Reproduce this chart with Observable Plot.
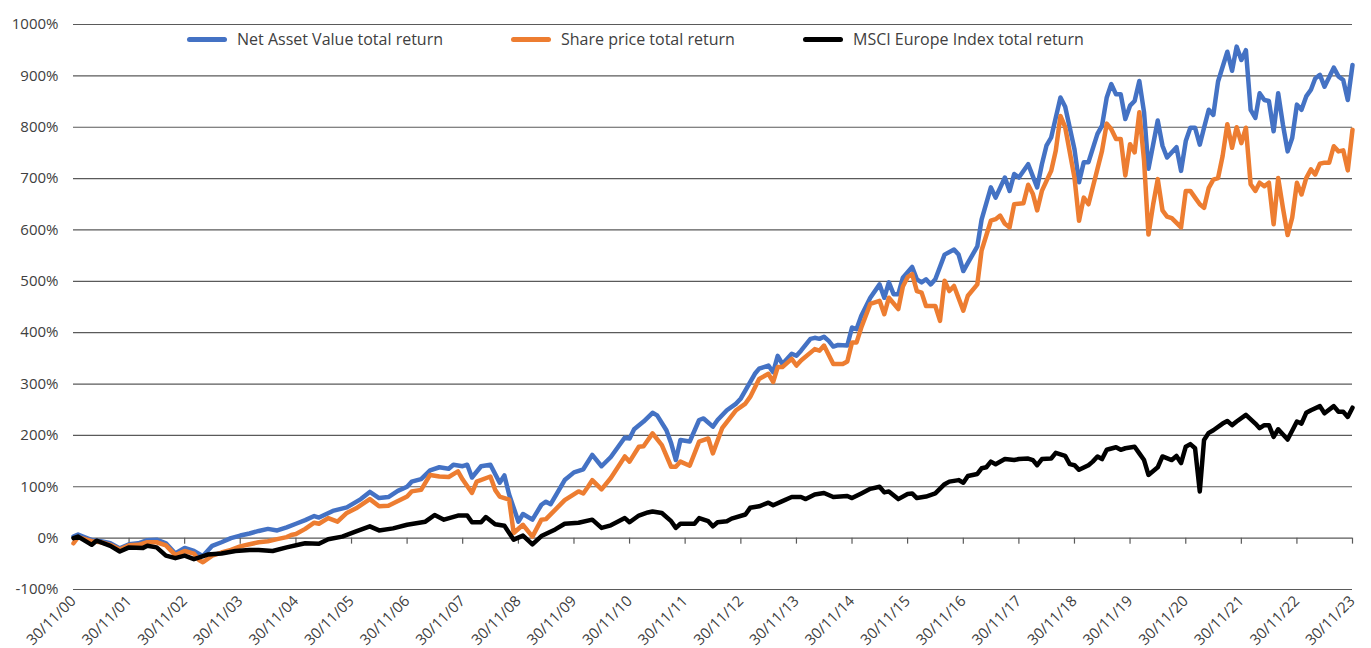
<!DOCTYPE html>
<html><head><meta charset="utf-8">
<script src="https://cdn.jsdelivr.net/npm/d3@7"></script>
<script src="https://cdn.jsdelivr.net/npm/@observablehq/plot@0.6"></script>
<style>
body{margin:0;background:#fff;font-family:"Open Sans",sans-serif;}
#wrap{position:relative;width:1371px;height:648px;}
.item{position:absolute;top:29px;display:flex;align-items:center;white-space:nowrap;font-size:16px;color:#404040;line-height:20px;}
.sw{width:40px;height:5px;border-radius:3px;margin-right:10px;}
</style></head><body><div id="wrap"></div>
<script>
// Net Asset Value total return (%)
const nav = [["2000-11",3],["2000-12",7],["2001-03",-4],["2001-05",-6],["2001-07",-10],["2001-09",-20],["2001-11",-12],["2002-01",-10],["2002-03",-4],["2002-05",-3],["2002-07",-10],["2002-09",-30],["2002-11",-19],["2003-01",-25],["2003-03",-35],["2003-05",-15],["2003-07",-8],["2003-09",0],["2003-11",5],["2004-01",9],["2004-03",14],["2004-05",18],["2004-07",15],["2004-09",21],["2004-11",28],["2005-01",35],["2005-03",43],["2005-04",40],["2005-07",53],["2005-10",60],["2006-01",76],["2006-03",90],["2006-05",78],["2006-07",80],["2006-09",92],["2006-11",100],["2006-12",110],["2007-02",115],["2007-04",132],["2007-06",138],["2007-08",135],["2007-09",143],["2007-11",140],["2007-12",143],["2008-01",118],["2008-03",140],["2008-05",143],["2008-07",108],["2008-08",122],["2008-09",85],["2008-11",32],["2008-12",47],["2009-02",36],["2009-04",65],["2009-05",71],["2009-06",66],["2009-09",113],["2009-11",128],["2010-01",134],["2010-03",162],["2010-05",140],["2010-07",158],["2010-10",196],["2010-11",194],["2010-12",212],["2011-02",227],["2011-04",244],["2011-05",239],["2011-07",210],["2011-08",185],["2011-09",152],["2011-10",191],["2011-12",188],["2012-02",230],["2012-03",233],["2012-05",217],["2012-06",230],["2012-08",249],["2012-10",262],["2012-11",272],["2013-02",320],["2013-03",330],["2013-04",333],["2013-05",336],["2013-06",323],["2013-07",355],["2013-08",339],["2013-10",359],["2013-11",355],["2013-12",365],["2014-02",388],["2014-03",390],["2014-04",388],["2014-05",392],["2014-06",384],["2014-07",373],["2014-08",376],["2014-10",375],["2014-11",410],["2014-12",407],["2015-01",433],["2015-03",468],["2015-05",494],["2015-06",468],["2015-07",498],["2015-08",475],["2015-09",475],["2015-10",507],["2015-12",528],["2016-01",504],["2016-02",498],["2016-03",504],["2016-04",494],["2016-05",504],["2016-07",552],["2016-09",562],["2016-10",552],["2016-11",520],["2016-12",536],["2017-01",552],["2017-02",568],["2017-03",620],["2017-05",683],["2017-06",663],["2017-08",702],["2017-09",676],["2017-10",709],["2017-11",702],["2018-01",728],["2018-03",683],["2018-04",728],["2018-05",764],["2018-06",780],["2018-08",858],["2018-09",840],["2018-11",757],["2018-12",693],["2019-01",732],["2019-02",732],["2019-04",787],["2019-05",803],["2019-06",858],["2019-07",884],["2019-08",864],["2019-09",864],["2019-10",816],["2019-11",842],["2019-12",851],["2020-01",890],["2020-02",829],["2020-03",719],["2020-05",813],["2020-06",764],["2020-07",741],["2020-09",761],["2020-10",715],["2020-11",773],["2020-12",799],["2021-01",799],["2021-02",766],["2021-03",799],["2021-04",834],["2021-05",824],["2021-06",889],["2021-08",947],["2021-09",910],["2021-10",957],["2021-11",931],["2021-12",950],["2022-01",834],["2022-02",818],["2022-03",866],["2022-04",853],["2022-05",851],["2022-06",792],["2022-07",866],["2022-08",805],["2022-09",753],["2022-10",779],["2022-11",844],["2022-12",834],["2023-01",860],["2023-02",873],["2023-03",895],["2023-04",902],["2023-05",879],["2023-07",916],["2023-08",899],["2023-09",892],["2023-10",853],["2023-11",921]];

// Share price total return (%)
const sharePrice = [["2000-11",-10],["2000-12",2],["2001-03",-6],["2001-05",-8],["2001-07",-13],["2001-09",-22],["2001-11",-14],["2002-01",-13],["2002-03",-8],["2002-05",-8],["2002-07",-14],["2002-09",-33],["2002-11",-25],["2003-01",-30],["2003-02",-42],["2003-03",-47],["2003-05",-34],["2003-07",-28],["2003-09",-23],["2003-11",-16],["2004-01",-12],["2004-03",-8],["2004-05",-6],["2004-07",-2],["2004-09",2],["2004-10",6],["2004-11",8],["2005-01",18],["2005-03",30],["2005-04",28],["2005-06",39],["2005-08",32],["2005-10",49],["2005-12",58],["2006-03",76],["2006-05",62],["2006-07",63],["2006-11",81],["2006-12",91],["2007-02",94],["2007-04",123],["2007-06",120],["2007-08",119],["2007-10",130],["2007-11",114],["2008-01",88],["2008-02",110],["2008-05",120],["2008-06",94],["2008-07",81],["2008-09",75],["2008-10",10],["2008-12",26],["2009-02",3],["2009-04",36],["2009-05",37],["2009-09",74],["2009-12",91],["2010-01",87],["2010-02",100],["2010-03",113],["2010-05",95],["2010-07",117],["2010-10",159],["2010-11",149],["2011-01",178],["2011-02",179],["2011-04",204],["2011-06",181],["2011-08",139],["2011-09",139],["2011-10",149],["2011-12",141],["2012-02",188],["2012-04",194],["2012-05",165],["2012-07",214],["2012-10",249],["2012-12",262],["2013-01",275],["2013-03",310],["2013-05",320],["2013-06",304],["2013-07",333],["2013-08",333],["2013-10",349],["2013-11",336],["2013-12",346],["2014-03",368],["2014-04",365],["2014-05",375],["2014-07",339],["2014-09",339],["2014-10",344],["2014-11",381],["2014-12",381],["2015-01",410],["2015-03",456],["2015-05",462],["2015-06",436],["2015-07",468],["2015-09",446],["2015-10",490],["2015-11",508],["2015-12",514],["2016-01",481],["2016-02",478],["2016-03",452],["2016-05",452],["2016-06",423],["2016-07",501],["2016-08",481],["2016-09",491],["2016-11",443],["2016-12",472],["2017-02",494],["2017-03",560],["2017-05",618],["2017-06",621],["2017-07",628],["2017-08",612],["2017-09",605],["2017-10",650],["2017-12",652],["2018-01",688],["2018-02",670],["2018-03",638],["2018-04",676],["2018-06",715],["2018-07",754],["2018-08",822],["2018-09",800],["2018-11",702],["2018-12",618],["2019-01",663],["2019-02",650],["2019-04",719],["2019-05",754],["2019-06",807],["2019-07",796],["2019-08",777],["2019-09",777],["2019-10",706],["2019-11",767],["2019-12",751],["2020-01",829],["2020-02",735],["2020-03",591],["2020-04",650],["2020-05",699],["2020-06",638],["2020-07",626],["2020-08",623],["2020-10",605],["2020-11",676],["2020-12",676],["2021-01",663],["2021-02",650],["2021-03",643],["2021-04",682],["2021-05",698],["2021-06",701],["2021-07",744],["2021-08",806],["2021-09",760],["2021-10",800],["2021-11",769],["2021-12",799],["2022-01",689],["2022-02",676],["2022-03",692],["2022-04",685],["2022-05",692],["2022-06",611],["2022-07",701],["2022-08",643],["2022-09",590],["2022-10",624],["2022-11",692],["2022-12",669],["2023-01",701],["2023-02",718],["2023-03",708],["2023-04",729],["2023-05",731],["2023-06",731],["2023-07",763],["2023-08",753],["2023-09",755],["2023-10",716],["2023-11",795]];

// MSCI Europe Index total return (%)
const msciEurope = [["2000-11",0],["2000-12",3],["2001-03",-13],["2001-04",-5],["2001-07",-15],["2001-09",-26],["2001-11",-18],["2002-02",-19],["2002-03",-15],["2002-05",-18],["2002-07",-34],["2002-09",-39],["2002-11",-34],["2003-01",-41],["2003-02",-38],["2003-04",-32],["2003-07",-30],["2003-10",-25],["2004-01",-23],["2004-03",-23],["2004-06",-25],["2004-09",-18],["2004-12",-12],["2005-01",-10],["2005-04",-11],["2005-06",-2],["2005-09",3],["2005-12",13],["2006-03",23],["2006-05",15],["2006-08",19],["2006-11",26],["2007-03",32],["2007-05",45],["2007-07",36],["2007-10",44],["2007-12",44],["2008-01",31],["2008-03",31],["2008-04",41],["2008-06",27],["2008-08",24],["2008-10",-3],["2008-12",5],["2009-02",-12],["2009-04",4],["2009-07",17],["2009-09",28],["2009-12",30],["2010-03",36],["2010-05",20],["2010-07",25],["2010-10",39],["2010-11",31],["2011-01",44],["2011-03",50],["2011-04",52],["2011-06",49],["2011-08",33],["2011-09",20],["2011-10",28],["2012-01",28],["2012-02",39],["2012-04",33],["2012-05",23],["2012-06",31],["2012-08",33],["2012-09",38],["2012-12",46],["2013-01",59],["2013-03",62],["2013-05",69],["2013-06",64],["2013-08",72],["2013-10",80],["2013-12",80],["2014-01",76],["2014-03",85],["2014-05",88],["2014-07",80],["2014-10",82],["2014-11",78],["2015-01",87],["2015-03",96],["2015-05",100],["2015-06",89],["2015-07",91],["2015-09",76],["2015-11",86],["2015-12",87],["2016-01",78],["2016-03",81],["2016-05",87],["2016-07",105],["2016-08",110],["2016-10",113],["2016-11",108],["2016-12",121],["2017-02",125],["2017-03",136],["2017-04",138],["2017-05",149],["2017-06",144],["2017-08",154],["2017-10",152],["2017-11",154],["2018-01",155],["2018-02",152],["2018-03",142],["2018-04",154],["2018-06",155],["2018-07",166],["2018-09",160],["2018-10",144],["2018-11",142],["2018-12",133],["2019-02",142],["2019-03",149],["2019-04",159],["2019-05",154],["2019-06",172],["2019-08",177],["2019-09",172],["2019-10",175],["2019-12",178],["2020-01",165],["2020-02",152],["2020-03",123],["2020-05",138],["2020-06",159],["2020-08",152],["2020-09",160],["2020-10",146],["2020-11",178],["2020-12",183],["2021-01",175],["2021-02",91],["2021-03",191],["2021-04",205],["2021-05",210],["2021-07",223],["2021-08",228],["2021-09",220],["2021-10",227],["2021-12",240],["2022-02",223],["2022-03",214],["2022-04",220],["2022-05",220],["2022-06",197],["2022-07",212],["2022-09",192],["2022-11",227],["2022-12",223],["2023-01",244],["2023-02",249],["2023-04",257],["2023-05",243],["2023-07",257],["2023-08",246],["2023-09",246],["2023-10",236],["2023-11",254]];

const seriesNames = ["Net Asset Value total return", "Share price total return", "MSCI Europe Index total return"];
const seriesColors = ["#4472C4", "#ED7D31", "#000000"];
const yTicks = [-100, 0, 100, 200, 300, 400, 500, 600, 700, 800, 900, 1000];
const xTickDates = ["2000-11","2001-11","2002-11","2003-11","2004-11","2005-11","2006-11","2007-11","2008-11","2009-11","2010-11","2011-11","2012-11","2013-11","2014-11","2015-11","2016-11","2017-11","2018-11","2019-11","2020-11","2021-11","2022-11","2023-11"];
const xTickLabels = ["30/11/00","30/11/01","30/11/02","30/11/03","30/11/04","30/11/05","30/11/06","30/11/07","30/11/08","30/11/09","30/11/10","30/11/11","30/11/12","30/11/13","30/11/14","30/11/15","30/11/16","30/11/17","30/11/18","30/11/19","30/11/20","30/11/21","30/11/22","30/11/23"];

const parse = d3.utcParse("%Y-%m");
const rows = [];
[nav, sharePrice, msciEurope].forEach((s, k) => {
  for (const [d, v] of s) rows.push({date: parse(d), value: v, series: seriesNames[k]});
});
const ticks = xTickDates.map(parse);

const chart = Plot.plot({
  width: 1371,
  height: 648,
  marginTop: 24,
  marginBottom: 59,
  marginLeft: 73,
  marginRight: 19,
  style: {fontFamily: "'Open Sans', sans-serif", fontSize: "15px", color: "#404040", background: "#fff"},
  x: {type: "utc", domain: [ticks[0], ticks[ticks.length - 1]], label: null},
  y: {domain: [-100, 1000], label: null},
  color: {domain: seriesNames, range: seriesColors},
  marks: [
    Plot.gridY({ticks: yTicks, stroke: "#5a5a5a", strokeOpacity: 1, strokeWidth: 1.2}),
    Plot.ruleX(ticks, {x: d => d, y1: 0, y2: 0, insetBottom: -6, stroke: "#5a5a5a", strokeWidth: 1.2}),
    Plot.axisY({ticks: yTicks, tickFormat: d => d + "%", tickSize: 0, tickPadding: 15, fill: "#404040", label: null}),
    Plot.axisX({ticks: ticks, tickFormat: (d, i) => xTickLabels[i], tickRotate: -45, tickSize: 0, tickPadding: 9, fill: "#404040", label: null}),
    Plot.line(rows, {x: "date", y: "value", z: "series", stroke: "series", strokeWidth: 4.5, strokeLinejoin: "round", strokeLinecap: "round"})
  ]
});
const wrap = document.getElementById("wrap");
wrap.appendChild(chart);
const legendLeft = [187, 511, 803];
seriesNames.forEach((name, k) => {
  const it = document.createElement("div");
  it.className = "item";
  it.style.left = legendLeft[k] + "px";
  it.innerHTML = `<span class="sw" style="background:${seriesColors[k]}"></span><span>${name}</span>`;
  wrap.appendChild(it);
});
</script>
</body></html>
